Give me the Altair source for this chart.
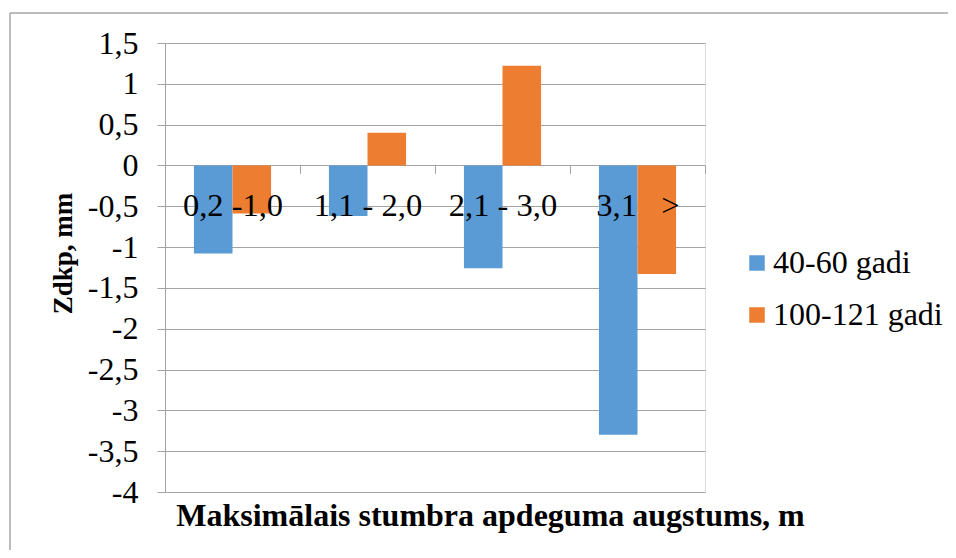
import altair as alt
import pandas as pd

categories = ["0,2 -1,0", "1,1 - 2,0", "2,1 - 3,0", "3,1\u00a0\u00a0\u00a0>"]
series_names = ["40-60 gadi", "100-121 gadi"]
values_40_60 = [-1.08, -0.62, -1.26, -3.30]
values_100_121 = [-0.59, 0.40, 1.22, -1.33]
y_ticks = [-4, -3.5, -3, -2.5, -2, -1.5, -1, -0.5, 0, 0.5, 1, 1.5]
colors = ["#5B9BD5", "#ED7D31"]

rows = []
for c, a, b in zip(categories, values_40_60, values_100_121):
    rows.append({"cat": c, "series": series_names[0], "val": a})
    rows.append({"cat": c, "series": series_names[1], "val": b})
df = pd.DataFrame(rows)

W, H = 540, 449
YMIN, YMAX = -4, 1.5
zero_offset = -H * (0 - YMIN) / (YMAX - YMIN)
FONT = "Liberation Serif"
GRAY = "#a3a3a3"

bars = alt.Chart(df).mark_bar().encode(
    x=alt.X("cat:N", sort=categories,
            scale=alt.Scale(paddingInner=0, paddingOuter=0),
            axis=alt.Axis(orient="bottom", offset=zero_offset, domain=False,
                          ticks=True, tickBand="extent", tickSize=8, tickColor=GRAY,
                          labelAngle=0, labelFont=FONT, labelFontSize=32.5,
                          labelColor="black", labelBaseline="middle", labelPadding=32,
                          grid=False, zindex=1,
                          title="Maksimālais stumbra apdeguma augstums, m",
                          titleFont=FONT, titleFontSize=32, titleFontWeight="bold",
                          titleColor="black", titleX=325, titleY=350,
                          titleAlign="center", titleBaseline="middle")),
    xOffset=alt.XOffset("series:N", sort=series_names,
                        scale=alt.Scale(paddingInner=0, paddingOuter=0.75)),
    y=alt.Y("val:Q", scale=alt.Scale(domain=[YMIN, YMAX], nice=False),
            axis=alt.Axis(values=y_ticks, labelExpr="replace(toString(datum.value), '.', ',')",
                          labelFont=FONT, labelFontSize=32, labelColor="black",
                          labelPadding=19, tickSize=8, tickColor=GRAY,
                          domainColor=GRAY, gridColor=GRAY, grid=True,
                          title="Zdkp, mm", titleFont=FONT, titleFontSize=27,
                          titleFontWeight="bold", titleColor="black", titleAngle=270,
                          titleX=-102, titleY=210, titleAlign="center",
                          titleBaseline="middle")),
    color=alt.Color("series:N", sort=series_names,
                    scale=alt.Scale(domain=series_names, range=colors),
                    legend=alt.Legend(title=None, orient="none", legendX=576, legendY=204,
                                      symbolType="square", symbolSize=240,
                                      symbolStrokeWidth=0, labelFont=FONT,
                                      labelFontSize=32, labelColor="black", labelLimit=400,
                                      labelOffset=0, rowPadding=20)),
)

frame_data = pd.DataFrame({"a": [0]})
frame_left = alt.Chart(frame_data).mark_rule(color="#a6a6a6", strokeWidth=1.5).encode(
    x=alt.value(-155), y=alt.value(-30), y2=alt.value(560))
frame_top = alt.Chart(frame_data).mark_rule(color="#a6a6a6", strokeWidth=1.5).encode(
    x=alt.value(-155), x2=alt.value(820), y=alt.value(-30))

chart = alt.layer(frame_left, frame_top, bars).properties(
    width=W, height=H,
    autosize=alt.AutoSizeParams(type="none"),
    padding={"left": 157, "top": 35, "right": 243, "bottom": 58},
).configure_view(strokeWidth=0).configure(
    background="white", font=FONT
).configure_axis(labelFont=FONT, titleFont=FONT).configure_legend(labelFont=FONT)

chart.save("out.html", embed_options={"renderer": "svg", "actions": False})
